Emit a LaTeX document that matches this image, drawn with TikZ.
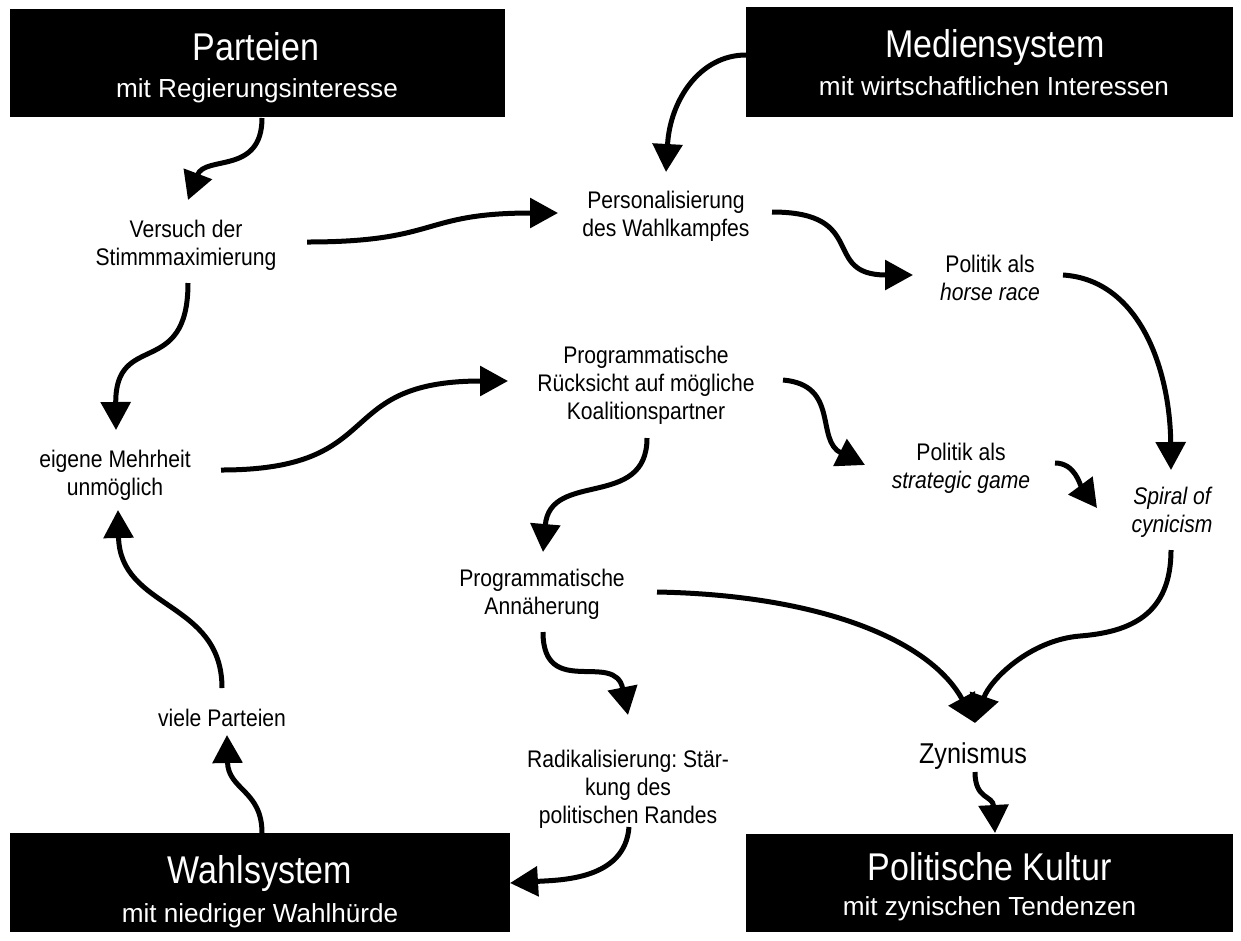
\documentclass[tikz,border=0pt]{standalone}
\usepackage{fontspec}
\setmainfont{Liberation Sans}
\newfontfamily\cond{Liberation Sans}[FakeStretch=0.88]
\usetikzlibrary{calc,arrows.meta}
\frenchspacing
\tikzset{
 blk/.style={fill=black, draw=none, inner sep=0pt},
 ttl/.style={text=white, inner sep=0pt, anchor=base, font=\cond\fontsize{29}{34}\selectfont},
 sub/.style={text=white, inner sep=0pt, anchor=base, font=\fontsize{19.6}{23}\selectfont},
 lbl/.style={inner sep=0pt, align=center, font=\cond\frenchspacing\fontsize{18}{21}\selectfont},
 arr/.style={line width=3.75pt, -{Triangle[length=21pt,width=22pt]}},
}
\begin{document}
\begin{tikzpicture}[x=0.75pt,y=-0.75pt]
\useasboundingbox (0,0) rectangle (1241,940);
\fill[white] (0,0) rectangle (1241,940);
% boxes
\node[blk, minimum width=371.25pt, minimum height=81pt] (partei) at (257.5,63) {};
\node[ttl] (parteiT) at (256,60) {Parteien};
\node[sub] (parteiS) at (257,97) {mit Regierungsinteresse};
\node[blk, minimum width=365.25pt, minimum height=82.5pt] (medien) at (989.5,62) {};
\node[ttl] (medienT) at (995,57) {Mediensystem};
\node[sub] (medienS) at (994,95) {mit wirtschaftlichen Interessen};
\node[blk, minimum width=375pt, minimum height=74.25pt] (wahl) at (260,882.5) {};
\node[ttl] (wahlT) at (260,883) {Wahlsystem};
\node[sub] (wahlS) at (260,922) {mit niedriger Wahlhürde};
\node[blk, minimum width=365.25pt, minimum height=73.5pt] (kultur) at (989.5,883) {};
\node[ttl] (kulturT) at (989.5,880) {Politische Kultur};
\node[sub] (kulturS) at (989.5,915) {mit zynischen Tendenzen};
% labels
\node[lbl] (versuch) at (186,245) {Versuch der\\Stimmmaximierung};
\node[lbl] (person) at (666,216) {Personalisierung\\des Wahlkampfes};
\node[lbl] (horse) at (990,278) {Politik als\\\itshape horse race};
\node[lbl] (prog) at (646,385) {Programmatische\\Rücksicht auf mögliche\\Koalitionspartner};
\node[lbl] (eigene) at (115,475) {eigene Mehrheit\\unmöglich};
\node[lbl] (strat) at (961,468) {Politik als\\\itshape strategic game};
\node[lbl, font=\cond\itshape\fontsize{18}{21}\selectfont] (spiral) at (1172,512) {Spiral of\\cynicism};
\node[lbl] (annae) at (542,594) {Programmatische\\Annäherung};
\node[lbl] (viele) at (222,718) {viele Parteien};
\node[lbl] (radikal) at (628,789) {Radikalisierung: Stär-\\kung des\\politischen Randes};
\node[lbl, font=\cond\fontsize{21.5}{25}\selectfont] (zyn) at (973,756) {Zynismus};
% connectors
\draw[arr] ($(partei)+(4.5,55)$) .. controls +(0,57) and +(17,-45) .. ($(versuch)+(2,-45)$);
\draw[arr] ($(versuch)+(2,38)$) .. controls +(0,97) and +(-1,-100) .. ($(eigene)+(1,-45)$);
\draw[arr] ($(eigene)+(106,-5)$) .. controls +(169,0) and +(-178,0) .. ($(prog)+(-138,-4)$);
\draw[arr] ($(versuch)+(121,-3)$) .. controls +(133,0) and +(-138,0) .. ($(person)+(-108,-3)$);
\draw[arr] ($(medien)+(-243.5,-7)$) .. controls +(-46,0) and +(4,-72) .. ($(person)+(0,-44)$);
\draw[arr] ($(person)+(106,-4)$) .. controls +(98,0) and +(-93,0) .. ($(horse)+(-77,-3)$);
\draw[arr] ($(horse)+(73,-3)$) .. controls +(77,5) and +(-1,-100) .. ($(spiral)+(-1,-42)$);
\draw[arr] ($(prog)+(137,-5)$) .. controls +(57,5) and +(-50,-25) .. ($(strat)+(-96,-3)$);
\draw[arr] ($(strat)+(94,-5)$) .. controls +(20,0) and +(-17,-23) .. ($(spiral)+(-75,-4)$);
\draw[arr] ($(prog)+(1,53)$) .. controls +(0,72) and +(7,-82) .. ($(annae)+(1,-42)$);
\draw[arr] ($(annae)+(1,38)$) .. controls +(0,68) and +(-13,-65) .. ($(radikal)+(0,-74)$);
\draw[arr] ($(radikal)+(1,38)$) .. controls +(-4,53) and +(50,-3) .. ($(wahl)+(250,0.5)$);
\draw[arr] ($(wahl)+(2,-49.5)$) .. controls +(0,-43) and +(1,55) .. ($(viele)+(5,17)$);
\draw[arr] ($(viele)+(0,-30)$) .. controls +(0,-88) and +(2,100) .. ($(eigene)+(3,35)$);
\draw[arr] ($(annae)+(115,-2)$) .. controls +(163,3) and +(-45,-83) .. ($(zyn)+(2,-33)$);
\draw[arr] ($(spiral)+(-1,38)$) .. controls +(0,65) and +(50,-4) .. ($(spiral)+(-92,124)$)
  .. controls +(-50,4) and +(15,-43) .. ($(zyn)+(2,-33)$);
\draw[arr] ($(zyn)+(2,16)$) .. controls +(0,28) and +(-2,-38) .. ($(kultur)+(5.5,-50)$);
\end{tikzpicture}
\end{document}
